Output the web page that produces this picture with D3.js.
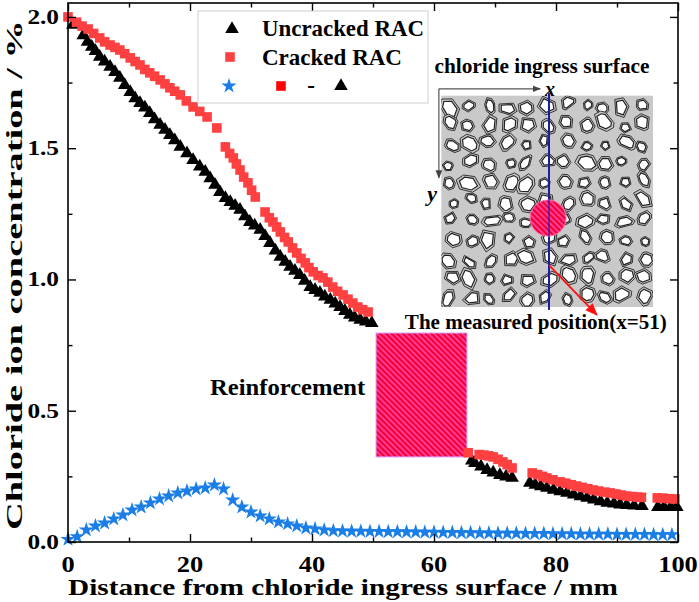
<!DOCTYPE html>
<html>
<head>
<meta charset="utf-8">
<script src="https://cdn.jsdelivr.net/npm/d3@7"></script>
<style>
  body { margin: 0; background: #fff; }
  text { font-family: "Liberation Serif", "Times New Roman", serif; font-weight: bold; }
</style>
</head>
<body>
<div id="grafica"></div>
<script>
// values
var x_uncracked = [0.8, 2.5, 3.2, 3.9, 4.5, 5.2, 6.0, 6.9, 7.7, 8.5, 9.3, 10.2, 11.0, 11.8, 12.6, 13.4, 14.2, 15.1, 15.9,
  16.7, 17.5, 18.4, 19.5, 20.5, 21.6, 22.5, 23.3, 24.1, 24.9, 25.8, 26.6, 27.4, 28.2, 29.0, 29.8, 30.6, 31.5, 32.3, 33.1,
  34.0, 34.8, 35.6, 36.4, 37.2, 38.0, 38.8, 39.7, 40.5, 41.3, 42.1, 43.0, 43.8, 44.6, 45.4, 46.2, 47.0, 47.9, 48.8, 49.8,
  66.2, 66.7, 67.7, 68.7, 69.7, 70.8, 71.8, 72.8,
  75.7, 76.6, 77.5, 78.5, 79.6, 80.7, 81.8, 82.9, 84.0, 85.1, 86.2, 87.3, 88.4, 89.5, 90.5, 91.6, 92.8, 94.1,
  96.7, 97.7, 98.8, 99.8];
var y_uncracked = [1.97, 1.93, 1.905, 1.886, 1.87, 1.848, 1.83, 1.81, 1.79, 1.768, 1.74, 1.714, 1.69, 1.672, 1.655, 1.634, 1.61, 1.589, 1.57,
  1.55, 1.53, 1.505, 1.48, 1.455, 1.43, 1.41, 1.385, 1.36, 1.333, 1.31, 1.295, 1.28, 1.265, 1.24, 1.219, 1.205, 1.189, 1.165, 1.139,
  1.11, 1.086, 1.067, 1.048, 1.033, 1.017, 0.995, 0.971, 0.96, 0.949, 0.935, 0.922, 0.908, 0.895, 0.88, 0.865, 0.855, 0.846, 0.84, 0.834,
  0.31, 0.301, 0.287, 0.274, 0.264, 0.255, 0.249, 0.244,
  0.225, 0.218, 0.212, 0.206, 0.199, 0.193, 0.187, 0.181, 0.174, 0.168, 0.162, 0.155, 0.149, 0.146, 0.143, 0.141, 0.139, 0.137,
  0.133, 0.133, 0.133, 0.133];

var x_cracked = [0, 1.4, 2.3, 3.3, 4.2, 5.2, 6.0, 6.9, 7.7, 8.5, 9.3, 10.2, 11.0, 11.8, 12.6, 13.4, 14.2, 15.1, 15.9, 16.7,
  17.5, 18.4, 19.4, 20.5, 21.6, 22.8, 24.4,
  25.8, 26.5, 27.1, 27.6, 28.2, 28.8, 29.5, 30.1, 30.7,
  32.3, 33.0, 33.6, 34.2, 34.8, 35.5, 36.1, 36.8, 37.5, 38.2, 38.9, 39.5, 40.2, 41.0, 41.8, 42.6, 43.4, 44.2, 45.1, 45.9,
  46.7, 47.5, 48.3, 49.2,
  65.6, 67.4, 68.2, 69.0, 69.7, 70.5, 71.3, 72.0, 72.8,
  76.1, 77.0, 77.8, 78.5, 79.5, 80.7, 81.6, 82.5, 83.4, 84.3, 85.2, 86.1, 87.0, 88.0, 88.9, 89.8, 90.7, 91.6, 92.5, 93.4, 94.0,
  96.6, 97.5, 98.5, 99.5];
var y_cracked = [2.00, 1.98, 1.965, 1.954, 1.937, 1.92, 1.905, 1.893, 1.884, 1.874, 1.86, 1.844, 1.83, 1.817, 1.80, 1.787, 1.774, 1.76, 1.745, 1.73,
  1.717, 1.703, 1.68, 1.657, 1.64, 1.619, 1.577,
  1.505, 1.48, 1.463, 1.44, 1.417, 1.39, 1.368, 1.34, 1.314,
  1.257, 1.235, 1.219, 1.20, 1.181, 1.16, 1.143, 1.12, 1.101, 1.08, 1.063, 1.045, 1.029, 1.015, 1.006, 0.99, 0.971, 0.955, 0.941, 0.925,
  0.910, 0.895, 0.885, 0.876,
  0.340, 0.333, 0.331, 0.328, 0.324, 0.315, 0.305, 0.295, 0.282,
  0.263, 0.257, 0.25, 0.244, 0.237, 0.229, 0.224, 0.218, 0.213, 0.208, 0.203, 0.198, 0.194, 0.19, 0.187, 0.183, 0.179, 0.175, 0.173, 0.171, 0.170,
  0.168, 0.167, 0.165, 0.164];

// difference cracked - uncracked (stars)
var x_diferencia = [0, 1.5, 3, 4.5, 6, 7.5, 9, 10.5, 12, 13.5, 15, 16.5, 18, 19.5, 21, 22.5, 24, 25.5, 27, 28.5,
  30, 31.5, 33, 34.5, 36, 37.5, 39, 40.5, 42, 43.5, 45, 46.5, 48, 49.5, 51, 52.5, 54, 55.5, 57, 58.5,
  60, 61.5, 63, 64.5, 66, 67.5, 69, 70.5, 72, 73.5, 75, 76.5, 78, 79.5, 81, 82.5, 84, 85.5, 87, 88.5,
  90, 91.5, 93, 94.5, 96, 97.5, 99];
var y_diferencia = [0.010, 0.020, 0.046, 0.061, 0.072, 0.088, 0.103, 0.122, 0.133, 0.149, 0.164, 0.175, 0.187, 0.194, 0.202, 0.206, 0.217, 0.202, 0.160, 0.133,
  0.114, 0.099, 0.088, 0.076, 0.069, 0.061, 0.053, 0.050, 0.046, 0.043, 0.042, 0.041, 0.041, 0.040, 0.040, 0.039, 0.039, 0.038, 0.038, 0.037,
  0.037, 0.036, 0.036, 0.035, 0.035, 0.034, 0.034, 0.033, 0.033, 0.033, 0.032, 0.032, 0.032, 0.031, 0.031, 0.031, 0.030, 0.030, 0.030, 0.030,
  0.029, 0.029, 0.029, 0.029, 0.028, 0.028, 0.028];

var x_ticks = [0, 20, 40, 60, 80, 100];
var x_ticks_menores = [10, 30, 50, 70, 90];
var y_ticks = [0, 0.5, 1.0, 1.5, 2.0];
var y_ticks_menores = [0.25, 0.75, 1.25, 1.75];

var ancho = 699, altura = 602;
var margin = { top: 3, right: 21, bottom: 60, left: 68 };
var w = ancho - margin.left - margin.right,
  h = altura - margin.top - margin.bottom;

var svg = d3.select("#grafica").append("svg")
  .attr("width", ancho)
  .attr("height", altura);

var x = d3.scaleLinear().domain([0, 100]).range([margin.left, margin.left + w]);
var y = d3.scaleLinear().domain([0, 2.053]).range([margin.top + h, margin.top]);

var defs = svg.append("defs");
// hatching used for the reinforcement
var pat = defs.append("pattern").attr("id", "rayado")
  .attr("patternUnits", "userSpaceOnUse")
  .attr("width", 4).attr("height", 4)
  .attr("patternTransform", "rotate(-45)");
pat.append("rect").attr("width", 4).attr("height", 4).attr("fill", "#ff3c9e");
pat.append("rect").attr("width", 2).attr("height", 4).attr("fill", "#f5002a");

function flecha(id, color) {
  defs.append("marker").attr("id", id)
    .attr("viewBox", "0 0 10 10").attr("refX", 9).attr("refY", 5)
    .attr("markerWidth", 7).attr("markerHeight", 7)
    .attr("orient", "auto")
    .append("path").attr("d", "M0,1 L10,5 L0,9 z").attr("fill", color);
}
flecha("flecha_gris", "#444");
flecha("flecha_roja", "#ff1010");

defs.append("clipPath").attr("id", "recorte_inset")
  .append("rect")
  .attr("x", x(61.2)).attr("y", y(1.70))
  .attr("width", x(95.9) - x(61.2)).attr("height", y(0.895) - y(1.70));

// ---------- inset: concrete section ----------
var inset = svg.append("g");
inset.append("rect")
  .attr("x", x(61.2)).attr("y", y(1.70))
  .attr("width", x(95.9) - x(61.2)).attr("height", y(0.895) - y(1.70))
  .attr("fill", "#c9c9c9");

// aggregates, just a decorative texture on a jittered grid
function pseudo(a) { var s = Math.sin(a) * 43758.5453; return s - Math.floor(s); }
var agregados = inset.append("g").attr("clip-path", "url(#recorte_inset)");
var n_col = 11, n_fil = 11;
var cw = (x(95.9) - x(61.2)) / n_col, ch = (y(0.895) - y(1.70)) / n_fil;
for (var i = 0; i < n_col; i++) {
  for (var j = 0; j < n_fil; j++) {
    var k = i * 31 + j * 17 + 3;
    var cx = x(61.2) + (i + 0.5) * cw + (pseudo(k * 1.3) - 0.5) * cw * 0.35;
    var cy = y(1.70) + (j + 0.5) * ch + (pseudo(k * 2.7) - 0.5) * ch * 0.35;
    var r = cw * (0.26 + 0.2 * pseudo(k * 3.1));
    var alarga = 1 + 0.9 * pseudo(k * 4.9) * pseudo(k * 0.7);
    var giro = pseudo(k * 5.3) * Math.PI;
    var nv = 5 + Math.floor(pseudo(k * 6.1) * 3);
    var pts = [];
    for (var v = 0; v < nv; v++) {
      var ang = 2 * Math.PI * v / nv + (pseudo(k * 7 + v) - 0.5) * 0.6;
      var px = Math.cos(ang) * r * alarga, py = Math.sin(ang) * r;
      pts.push([cx + px * Math.cos(giro) - py * Math.sin(giro), cy + px * Math.sin(giro) + py * Math.cos(giro)]);
    }
    var escalar = function (f) {
      return pts.map(function (p) { return [cx + (p[0] - cx) * f, cy + (p[1] - cy) * f]; });
    };
    agregados.append("path")
      .attr("d", "M" + escalar(1.0).join("L") + "Z")
      .attr("fill", "#c9c9c9").attr("stroke", "#333").attr("stroke-width", 1);
    agregados.append("path")
      .attr("d", "M" + escalar(0.74).join("L") + "Z")
      .attr("fill", "#fff").attr("stroke", "#222").attr("stroke-width", 1.2);
  }
}

// measured line, section of reinforcement
inset.append("line")
  .attr("x1", x(78.85)).attr("x2", x(78.85))
  .attr("y1", y(1.71)).attr("y2", y(0.884))
  .attr("stroke", "#1c1ca8").attr("stroke-width", 2);
inset.append("circle")
  .attr("cx", x(78.7)).attr("cy", y(1.234)).attr("r", 18)
  .attr("fill", "url(#rayado)").attr("stroke", "#ff6fa8").attr("stroke-width", 1);
inset.append("line")
  .attr("x1", x(78.85)).attr("x2", x(78.85))
  .attr("y1", y(1.234) - 18).attr("y2", y(1.234) + 18)
  .attr("stroke", "#1c1ca8").attr("stroke-width", 2).attr("opacity", 0.6);

// axis arrows of the inset
inset.append("line")
  .attr("x1", x(60.8)).attr("y1", y(1.726)).attr("x2", x(77.4)).attr("y2", y(1.726))
  .attr("stroke", "#555").attr("stroke-width", 1.2).attr("marker-end", "url(#flecha_gris)");
inset.append("line")
  .attr("x1", x(60.8)).attr("y1", y(1.726)).attr("x2", x(60.8)).attr("y2", y(1.387))
  .attr("stroke", "#555").attr("stroke-width", 1.2).attr("marker-end", "url(#flecha_gris)");
inset.append("text").attr("x", x(78.2)).attr("y", y(1.70))
  .style("font-size", "20px").style("font-style", "italic").text("x");
inset.append("text").attr("x", x(58.9)).attr("y", y(1.30))
  .style("font-size", "22px").style("font-style", "italic").text("y");

inset.append("line")
  .attr("x1", x(78.85)).attr("y1", y(1.055)).attr("x2", x(86.7)).attr("y2", y(0.865))
  .attr("stroke", "#ff1010").attr("stroke-width", 1.8).attr("marker-end", "url(#flecha_roja)");

svg.append("text").attr("x", x(77.7)).attr("y", y(1.786))
  .attr("text-anchor", "middle").style("font-size", "20px")
  .attr("textLength", 215).attr("lengthAdjust", "spacingAndGlyphs")
  .text("chloride ingress surface");
svg.append("text").attr("x", x(76.7)).attr("y", y(0.811))
  .attr("text-anchor", "middle").style("font-size", "20.5px")
  .attr("textLength", 262).attr("lengthAdjust", "spacingAndGlyphs")
  .text("The measured position(x=51)");

// ---------- reinforcement ----------
svg.append("rect")
  .attr("x", x(50.5)).attr("y", y(0.796))
  .attr("width", x(65.4) - x(50.5)).attr("height", y(0.324) - y(0.796))
  .attr("fill", "url(#rayado)").attr("stroke", "#d79cff").attr("stroke-width", 1);
svg.append("text").attr("x", x(23.3)).attr("y", y(0.56))
  .style("font-size", "24px")
  .attr("textLength", 155).attr("lengthAdjust", "spacingAndGlyphs")
  .text("Reinforcement");

// ---------- series ----------
var tri = d3.symbol().type(d3.symbolTriangle).size(80);
var cuad = d3.symbol().type(d3.symbolSquare).size(92);
var estrella = d3.symbol().type(d3.symbolStar).size(72);

svg.append("g").selectAll("path")
  .data(d3.zip(x_uncracked, y_uncracked))
  .enter().append("path")
  .attr("transform", function (d) { return "translate(" + x(d[0]) + "," + y(d[1]) + ")"; })
  .attr("d", tri).attr("fill", "#000");

svg.append("g").selectAll("path")
  .data(d3.zip(x_cracked, y_cracked))
  .enter().append("path")
  .attr("transform", function (d) { return "translate(" + x(d[0]) + "," + y(d[1]) + ")"; })
  .attr("d", cuad).attr("fill", "#ff4040");

svg.append("g").selectAll("path")
  .data(d3.zip(x_diferencia, y_diferencia))
  .enter().append("path")
  .attr("transform", function (d) { return "translate(" + x(d[0]) + "," + y(d[1]) + ")"; })
  .attr("d", estrella).attr("fill", "#1a7ee6");

// ---------- axes (ticks inside, mirrored) ----------
function eje(gen, trans, valores, largo) {
  var g = svg.append("g").attr("transform", trans)
    .call(gen.tickValues(valores).tickSize(largo).tickFormat(""));
  g.select(".domain").remove();
  g.selectAll("line").attr("stroke", "#000").attr("stroke-width", 1.4);
  return g;
}
var top_y = margin.top, bot_y = margin.top + h, izq = margin.left, der = margin.left + w;
eje(d3.axisTop(x), "translate(0," + bot_y + ")", x_ticks, 8);
eje(d3.axisTop(x), "translate(0," + bot_y + ")", x_ticks_menores, 4.5);
eje(d3.axisBottom(x), "translate(0," + top_y + ")", x_ticks, 8);
eje(d3.axisBottom(x), "translate(0," + top_y + ")", x_ticks_menores, 4.5);
eje(d3.axisRight(y), "translate(" + izq + ",0)", y_ticks, 8);
eje(d3.axisRight(y), "translate(" + izq + ",0)", y_ticks_menores, 4.5);
eje(d3.axisLeft(y), "translate(" + der + ",0)", y_ticks, 8);
eje(d3.axisLeft(y), "translate(" + der + ",0)", y_ticks_menores, 4.5);

svg.append("rect")
  .attr("x", izq).attr("y", top_y).attr("width", w).attr("height", h)
  .attr("fill", "none").attr("stroke", "#000").attr("stroke-width", 1.6);

// tick labels, the original font is a bit wide so they get stretched
svg.append("g").selectAll("text").data(x_ticks).enter().append("text")
  .attr("transform", function (d) { return "translate(" + x(d) + ",572) scale(1.15,1)"; })
  .attr("text-anchor", "middle").style("font-size", "23px")
  .text(function (d) { return d; });
svg.append("g").selectAll("text").data(y_ticks).enter().append("text")
  .attr("transform", function (d) { return "translate(" + (izq - 9) + "," + (y(d) + 7) + ") scale(1.15,1)"; })
  .attr("text-anchor", "end").style("font-size", "22px")
  .text(function (d) { return d.toFixed(1); });

// axis titles
svg.append("text").attr("x", (izq + 618) / 2).attr("y", 595)
  .attr("text-anchor", "middle").style("font-size", "23px")
  .attr("textLength", 550).attr("lengthAdjust", "spacingAndGlyphs")
  .text("Distance from chloride ingress surface / mm");
svg.append("text")
  .attr("transform", "translate(22,275) rotate(-90)")
  .attr("text-anchor", "middle").style("font-size", "24px")
  .attr("textLength", 510).attr("lengthAdjust", "spacingAndGlyphs")
  .text("Chloride ion concentration / %");

// ---------- legend ----------
var ley = svg.append("g");
ley.append("rect").attr("x", 198).attr("y", 11).attr("width", 230).attr("height", 92)
  .attr("fill", "#fff").attr("stroke", "#d0d0d0").attr("stroke-width", 1);
ley.append("path").attr("transform", "translate(232,29)").attr("d", tri).attr("fill", "#000");
ley.append("text").attr("x", 262).attr("y", 36).style("font-size", "23px")
  .attr("textLength", 162).attr("lengthAdjust", "spacingAndGlyphs").text("Uncracked RAC");
ley.append("path").attr("transform", "translate(230,57)").attr("d", cuad).attr("fill", "#ff4040");
ley.append("text").attr("x", 262).attr("y", 65).style("font-size", "23px")
  .attr("textLength", 140).attr("lengthAdjust", "spacingAndGlyphs").text("Cracked RAC");
ley.append("path").attr("transform", "translate(229,86)").attr("d", estrella).attr("fill", "#1a7ee6");
ley.append("path").attr("transform", "translate(281,86)").attr("d", cuad).attr("fill", "#ff0000");
ley.append("text").attr("x", 311).attr("y", 93).attr("text-anchor", "middle").style("font-size", "23px").text("-");
ley.append("path").attr("transform", "translate(341,86)").attr("d", tri).attr("fill", "#000");
</script>
</body>
</html>
